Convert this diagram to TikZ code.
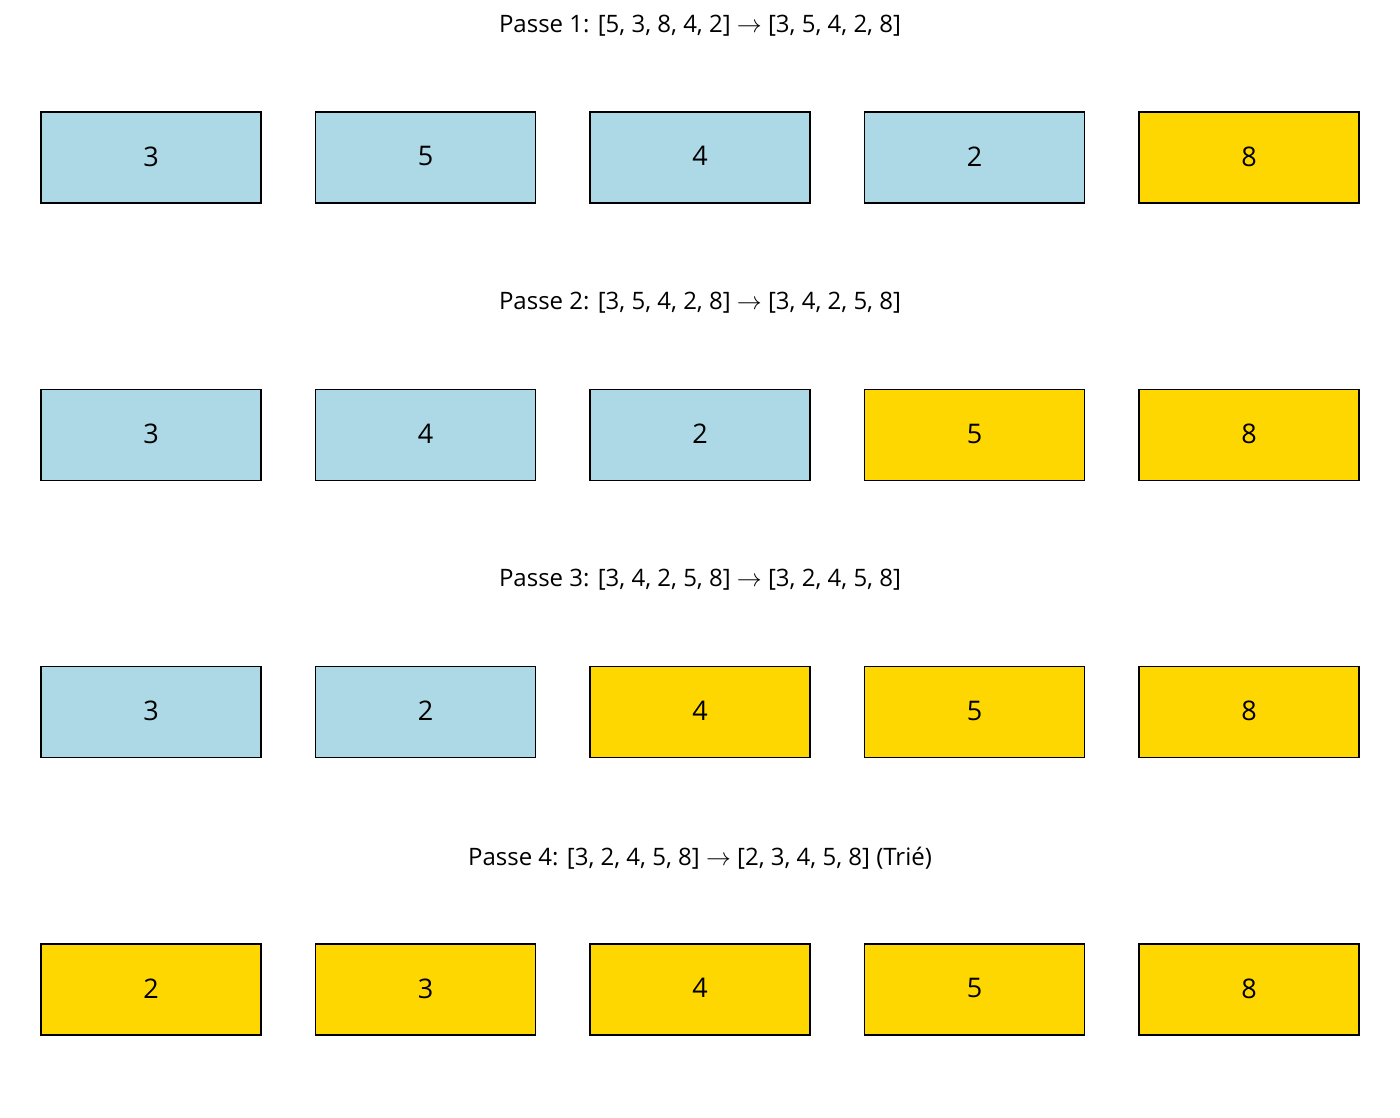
\documentclass[tikz,border=0pt]{standalone}
\usepackage{fontspec}
\setmainfont{Open Sans}
\definecolor{lblue}{HTML}{ADD8E6}
\definecolor{gold}{HTML}{FFD700}
\tikzset{
  cell/.style={draw=black, line width=1.6pt, minimum width=220pt, minimum height=91pt, inner sep=0pt, font=\fontsize{27}{30}\selectfont},
  todo/.style={cell, fill=lblue},
  done/.style={cell, fill=gold},
  ttl/.style={font=\fontsize{24}{28}\selectfont, inner sep=0pt}
}
\newcommand{\arr}{\ensuremath{\rightarrow}}
\begin{document}
\begin{tikzpicture}[x=1pt,y=-1pt]
\useasboundingbox (0,0) rectangle (1400,1118);
\fill[white] (0,0) rectangle (1400,1118);
% row 1
\node[ttl] (t1) at (700,26) {Passe 1: [5, 3, 8, 4, 2] \arr{} [3, 5, 4, 2, 8]};
\node[todo] (a1) at (151,157.5) {\raisebox{2.5pt}{3}};
\node[todo] (a2) at (425.5,157.5) {\raisebox{2.5pt}{5}};
\node[todo] (a3) at (700,157.5) {\raisebox{2.5pt}{4}};
\node[todo] (a4) at (974.5,157.5) {\raisebox{2.5pt}{2}};
\node[done] (a5) at (1249,157.5) {\raisebox{2.5pt}{8}};
% row 2
\node[ttl] (t2) at (700,303) {Passe 2: [3, 5, 4, 2, 8] \arr{} [3, 4, 2, 5, 8]};
\node[todo] (b1) at (151,435) {\raisebox{2.5pt}{3}};
\node[todo] (b2) at (425.5,435) {\raisebox{2.5pt}{4}};
\node[todo] (b3) at (700,435) {\raisebox{2.5pt}{2}};
\node[done] (b4) at (974.5,435) {\raisebox{2.5pt}{5}};
\node[done] (b5) at (1249,435) {\raisebox{2.5pt}{8}};
% row 3
\node[ttl] (t3) at (700,580) {Passe 3: [3, 4, 2, 5, 8] \arr{} [3, 2, 4, 5, 8]};
\node[todo] (c1) at (151,712) {\raisebox{2.5pt}{3}};
\node[todo] (c2) at (425.5,712) {\raisebox{2.5pt}{2}};
\node[done] (c3) at (700,712) {\raisebox{2.5pt}{4}};
\node[done] (c4) at (974.5,712) {\raisebox{2.5pt}{5}};
\node[done] (c5) at (1249,712) {\raisebox{2.5pt}{8}};
% row 4
\node[ttl] (t4) at (700,858) {Passe 4: [3, 2, 4, 5, 8] \arr{} [2, 3, 4, 5, 8] (Trié)};
\node[done] (d1) at (151,989.5) {\raisebox{2.5pt}{2}};
\node[done] (d2) at (425.5,989.5) {\raisebox{2.5pt}{3}};
\node[done] (d3) at (700,989.5) {\raisebox{2.5pt}{4}};
\node[done] (d4) at (974.5,989.5) {\raisebox{2.5pt}{5}};
\node[done] (d5) at (1249,989.5) {\raisebox{2.5pt}{8}};
\end{tikzpicture}
\end{document}
